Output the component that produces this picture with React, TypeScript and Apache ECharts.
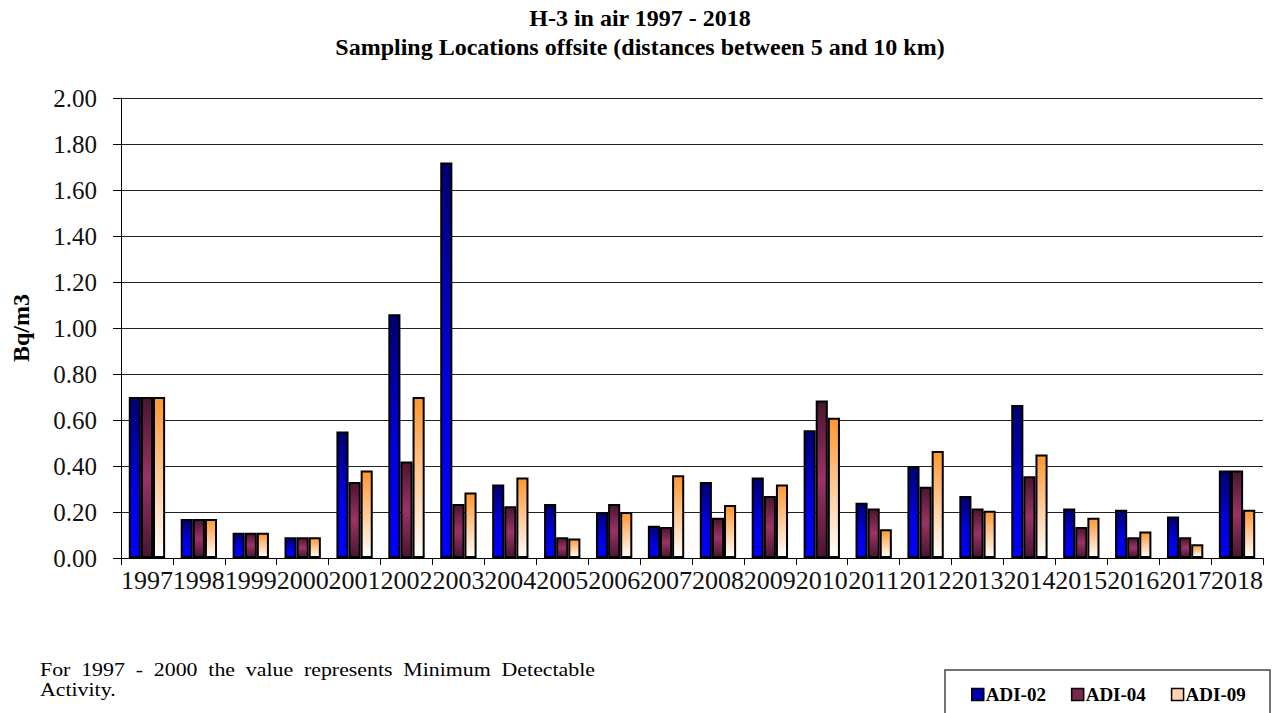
import React, { useEffect, useRef } from "react";
import * as echarts from "echarts";

const years = ["1997","1998","1999","2000","2001","2002","2003","2004","2005","2006","2007","2008","2009","2010","2011","2012","2013","2014","2015","2016","2017","2018"];
const adi02 = [0.70,0.17,0.11,0.09,0.55,1.06,1.72,0.32,0.235,0.20,0.14,0.33,0.35,0.555,0.24,0.40,0.27,0.665,0.215,0.21,0.18,0.38];
const adi04 = [0.70,0.17,0.11,0.09,0.33,0.42,0.235,0.225,0.09,0.235,0.135,0.175,0.27,0.685,0.215,0.31,0.215,0.355,0.135,0.09,0.09,0.38];
const adi09 = [0.70,0.17,0.11,0.09,0.38,0.70,0.285,0.35,0.085,0.20,0.36,0.23,0.32,0.61,0.125,0.465,0.205,0.45,0.175,0.115,0.06,0.21];
const seriesNames = ["ADI-02","ADI-04","ADI-09"];
const yTicks = { min: 0, max: 2, interval: 0.2 };
const noteLine1 = "For 1997 - 2000 the value represents Minimum Detectable";
const noteLine2 = "Activity.";

const FONT = "'Liberation Serif', 'Times New Roman', serif";

const grad = (stops: [number, string][]) => ({
  type: "linear", x: 0, y: 0, x2: 0, y2: 1,
  colorStops: stops.map(([offset, color]) => ({ offset, color })),
});

function justifiedWords(text: string, width: number, y: number, font: string) {
  const words = text.split(" ");
  const cv = document.createElement("canvas");
  const ctx = cv.getContext("2d")!;
  ctx.font = font;
  const widths = words.map((w) => ctx.measureText(w).width);
  const total = widths.reduce((a, b) => a + b, 0);
  const gap = (width - total) / (words.length - 1);
  let x = 0;
  return words.map((w, i) => {
    const el = { type: "text", x, y, style: { text: w, font, fill: "#000" } };
    x += widths[i] + gap;
    return el;
  });
}

export default function App() {
  const ref = useRef<HTMLDivElement>(null);
  useEffect(() => {
    document.body.style.margin = "0";
    const chart = echarts.init(ref.current!, null, { renderer: "svg" });
    const fills = [
      grad([[0, "#000070"], [0.55, "#0000e0"], [1, "#0000ff"]]),
      grad([[0, "#4a1530"], [0.5, "#9a3366"], [1, "#4a1530"]]),
      grad([[0, "#ff9630"], [1, "#ffffff"]]),
    ];
    const legendColors = ["#0000b0", "#7a2850", "#ffd2aa"];
    const data = [adi02, adi04, adi09];
    const noteFont = `19px ${FONT}`;
    const noteScale = 1.15;
    chart.setOption({
      animation: false,
      backgroundColor: "#ffffff",
      textStyle: { fontFamily: FONT, color: "#000" },
      title: {
        text: "H-3 in air 1997 - 2018\nSampling Locations offsite (distances between 5 and 10 km)",
        left: "center",
        top: 3,
        padding: 0,
        textStyle: { fontFamily: FONT, fontWeight: "bold", fontSize: 24, lineHeight: 29, color: "#000" },
      },
      legend: {
        left: 966,
        top: 680,
        itemWidth: 12,
        itemHeight: 12,
        itemGap: 25,
        icon: "rect",
        textStyle: { fontFamily: FONT, fontWeight: "bold", fontSize: 19, color: "#000", padding: [0, 0, 0, -3] },
        data: seriesNames.map((n, i) => ({
          name: n,
          itemStyle: { color: legendColors[i], borderColor: "#000", borderWidth: 1.5 },
        })),
      },
      grid: { left: 121, right: 17, top: 98, bottom: 155, containLabel: false },
      xAxis: {
        type: "category",
        data: years,
        boundaryGap: true,
        axisLine: { lineStyle: { color: "#000", width: 1 } },
        axisTick: { show: true, length: 7, lineStyle: { color: "#000" } },
        axisLabel: { interval: 0, fontFamily: FONT, fontSize: 26, color: "#111", margin: 9 },
      },
      yAxis: {
        type: "value",
        min: yTicks.min,
        max: yTicks.max,
        interval: yTicks.interval,
        name: "Bq/m3",
        nameLocation: "middle",
        nameGap: 88,
        nameRotate: 90,
        nameTextStyle: { fontFamily: FONT, fontWeight: "bold", fontSize: 24, color: "#000" },
        axisLine: { show: true, lineStyle: { color: "#000", width: 1 } },
        axisTick: { show: true, length: 8, lineStyle: { color: "#000" } },
        axisLabel: { fontFamily: FONT, fontSize: 25, color: "#111", margin: 24, formatter: (v: number) => v.toFixed(2) },
        splitLine: { show: true, lineStyle: { color: "#222", width: 1 } },
      },
      series: seriesNames.map((n, i) => ({
        name: n,
        type: "bar",
        data: data[i],
        barGap: "0%",
        barCategoryGap: "30%",
        itemStyle: { color: fills[i], borderColor: "#000", borderWidth: 2 },
        emphasis: { disabled: true },
      })),
      graphic: [
        {
          type: "rect",
          shape: { x: 945, y: 670, width: 325, height: 60 },
          style: { fill: "none", stroke: "#444", lineWidth: 1.5 },
          z: 0,
        },
        {
          type: "group",
          x: 40,
          y: 0,
          scaleX: noteScale,
          children: [
            ...justifiedWords(noteLine1, 555 / noteScale, 660, noteFont),
            { type: "text", x: 0, y: 680, style: { text: noteLine2, font: noteFont, fill: "#000" } },
          ],
        },
      ],
    });
    return () => chart.dispose();
  }, []);
  return <div ref={ref} style={{ position: "fixed", left: 0, top: 0, width: 1280, height: 713 }} />;
}
